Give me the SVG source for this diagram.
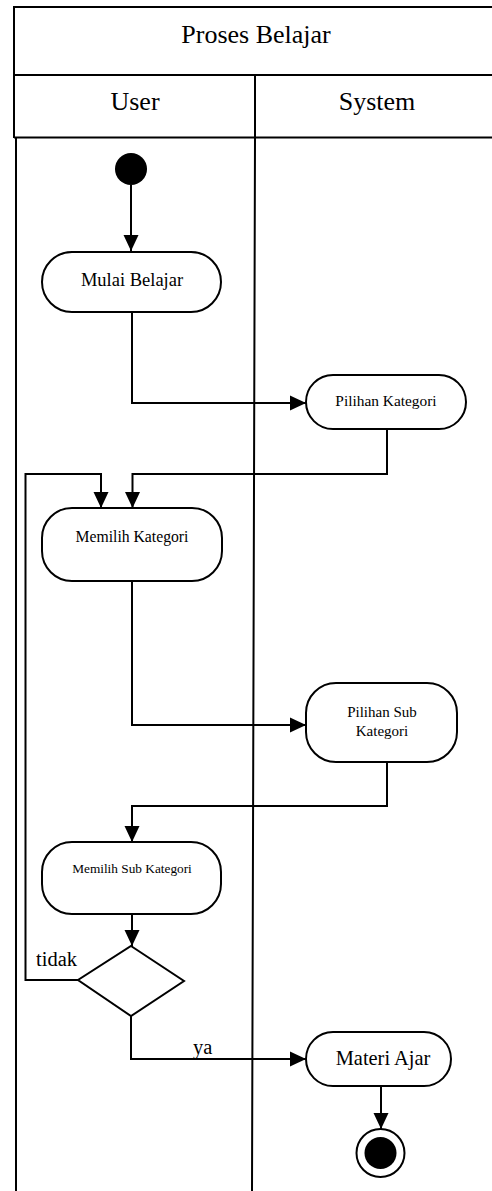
<svg xmlns="http://www.w3.org/2000/svg" width="492" height="1191" viewBox="0 0 492 1191">
<style>
.ln{fill:none;stroke:#000;stroke-width:2}
.nd{fill:#fff;stroke:#000;stroke-width:2}
.t{font-family:"Liberation Serif","Times New Roman",serif;fill:#000;text-anchor:middle}
</style>
<defs>
<marker id="ah" markerUnits="userSpaceOnUse" markerWidth="16" markerHeight="16" viewBox="0 0 16 16" refX="16" refY="8" orient="auto">
<path d="M0 0.5 L16 8 L0 15.5 Z" fill="#000"/>
</marker>
</defs>
<rect width="492" height="1191" fill="#fff"/>
<g id="swimlanes">
<path class="ln" d="M14 7 H493 M14 75 H493 M14 137.5 H493 M14 6 V138 M255 75 V137"/>
<path class="ln" d="M16 137 V1191 M255 137 L252 1191"/>
<text class="t" x="256" y="43" font-size="26">Proses Belajar</text>
<text class="t" x="135" y="110" font-size="26">User</text>
<text class="t" x="377" y="110" font-size="26">System</text>
</g>
<g id="connectors">
<path class="ln" d="M131 185 V251" marker-end="url(#ah)"/>
<path class="ln" d="M132 312 V403 H306" marker-end="url(#ah)"/>
<path class="ln" d="M387 429 V474 H132.5 V508" marker-end="url(#ah)"/>
<path class="ln" d="M78 980 H25.5 V474 H101 V508" marker-end="url(#ah)"/>
<path class="ln" d="M132 581 V725 H306" marker-end="url(#ah)"/>
<path class="ln" d="M387 762 V806 H132 V842" marker-end="url(#ah)"/>
<path class="ln" d="M132 914 V946" marker-end="url(#ah)"/>
<path class="ln" d="M131 1016 V1059 H306" marker-end="url(#ah)"/>
<path class="ln" d="M381 1086 V1129" marker-end="url(#ah)"/>
<text class="t" x="36" y="966" font-size="20.5" text-anchor="start" style="text-anchor:start">tidak</text>
<text class="t" x="193" y="1054" font-size="20.5" style="text-anchor:start">ya</text>
</g>
<g id="start">
<circle cx="131" cy="169" r="16" fill="#000"/>
</g>
<g id="mulai-belajar">
<rect class="nd" x="42" y="252" width="179" height="60" rx="30"/>
<text class="t" x="132" y="286" font-size="18.5">Mulai Belajar</text>
</g>
<g id="pilihan-kategori">
<rect class="nd" x="306" y="375" width="160" height="54" rx="27"/>
<text class="t" x="386" y="406" font-size="15.4">Pilihan Kategori</text>
</g>
<g id="memilih-kategori">
<rect class="nd" x="42" y="508" width="180" height="73" rx="30"/>
<text class="t" x="132" y="542" font-size="15.7">Memilih Kategori</text>
</g>
<g id="pilihan-sub-kategori">
<rect class="nd" x="306" y="683" width="151" height="79" rx="30"/>
<text class="t" x="382" y="717" font-size="15">Pilihan Sub</text>
<text class="t" x="382" y="736" font-size="15">Kategori</text>
</g>
<g id="memilih-sub-kategori">
<rect class="nd" x="42" y="842" width="179" height="72" rx="30"/>
<text class="t" x="132" y="873" font-size="13.3">Memilih Sub Kategori</text>
</g>
<g id="decision">
<polygon class="nd" points="131,946 184,981 131,1016 78,980"/>
</g>
<g id="materi-ajar">
<rect class="nd" x="306" y="1032" width="145" height="54" rx="27"/>
<text class="t" x="383" y="1065" font-size="20.4">Materi Ajar</text>
</g>
<g id="end">
<circle cx="380.5" cy="1153" r="24" fill="#fff" stroke="#000" stroke-width="2"/>
<circle cx="380.5" cy="1153" r="16" fill="#000"/>
</g>
</svg>
